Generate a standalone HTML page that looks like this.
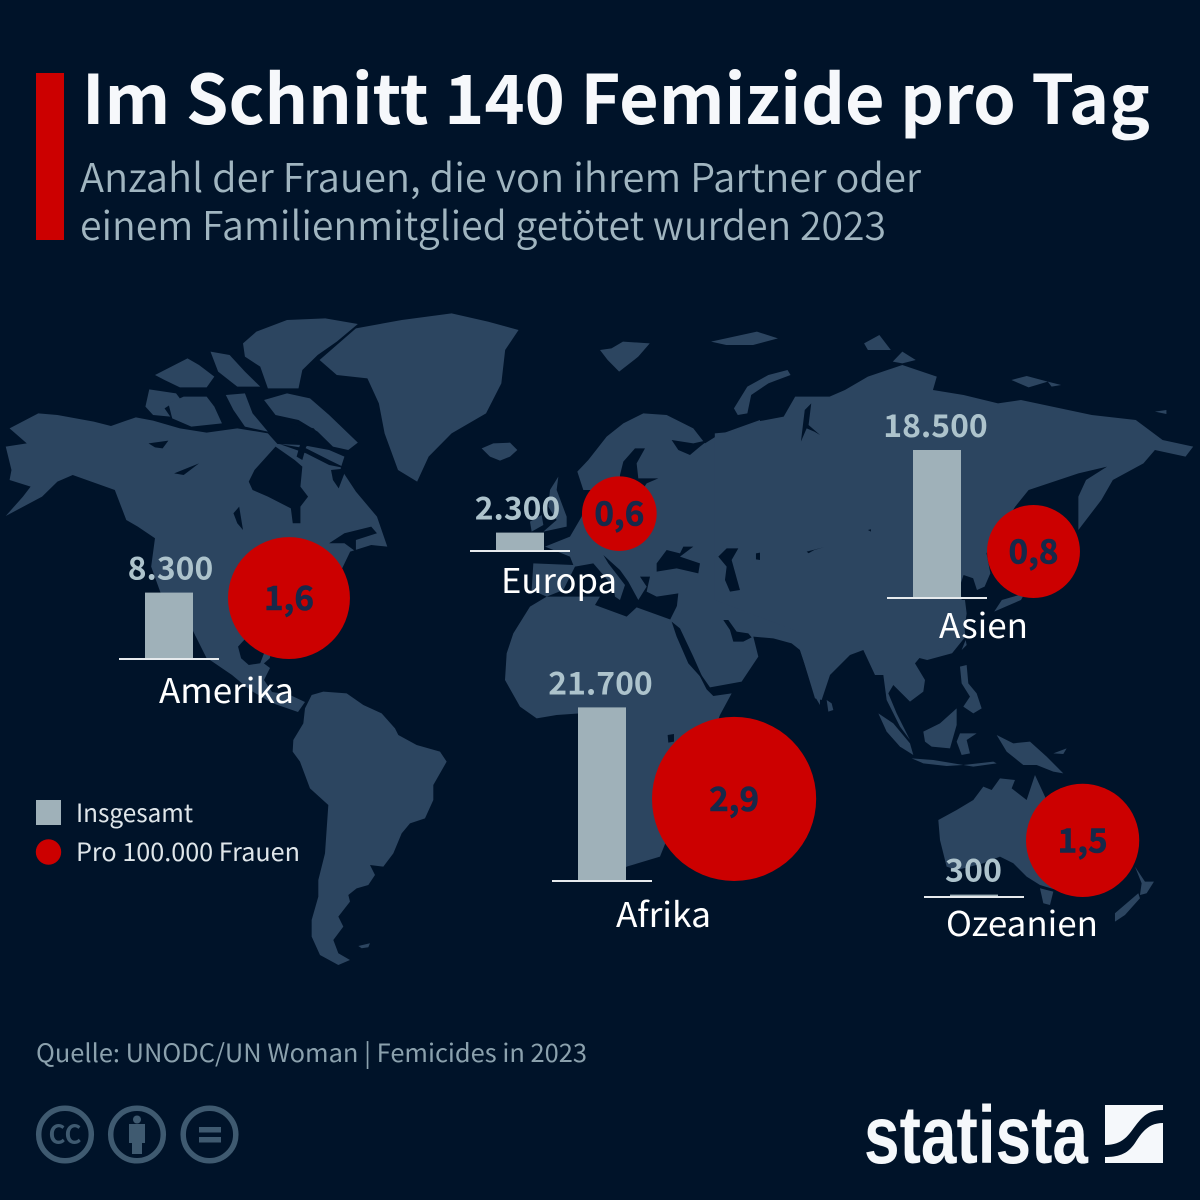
<!DOCTYPE html>
<html lang="de">
<head>
<meta charset="utf-8">
<title>Im Schnitt 140 Femizide pro Tag</title>
<style>
html,body{margin:0;padding:0;background:#001329;}
svg{display:block;}
text{font-family:"Noto Sans CJK JP","Liberation Sans",sans-serif;}
.land path{fill:#2c4560;}
.water path{fill:#001329;}
</style>
</head>
<body>
<svg id="chart" xmlns="http://www.w3.org/2000/svg" width="1200" height="1200" viewBox="0 0 1200 1200">
<rect width="1200" height="1200" fill="#001329"/>
<rect x="36" y="73" width="28" height="167" fill="#cc0000"/>
<text x="82" y="124" font-size="68" font-weight="700" fill="#f6f8fb" textLength="1068" lengthAdjust="spacingAndGlyphs">Im Schnitt 140 Femizide pro Tag</text>
<text x="80" y="192" font-size="39.5" font-weight="350" fill="#a0b5c0" textLength="841" lengthAdjust="spacingAndGlyphs">Anzahl der Frauen, die von ihrem Partner oder</text>
<text x="80" y="240" font-size="39.5" font-weight="350" fill="#a0b5c0" textLength="806" lengthAdjust="spacingAndGlyphs">einem Familienmitglied getötet wurden 2023</text>

<g>
  <g class="land" transform="translate(0,300) scale(.3827,.3333)">
    <path d="M25,385 L100,340 L150,345 L245,365 L290,378 L355,352 L400,362 L470,385 L540,398 L620,385 L700,400 L725,432 L790,435 L860,450 L900,470 L890,505 L930,575 L985,650 L1012,740 L970,735 L915,755 L890,815 L810,900 L720,1000 L705,1075 L680,1100 L600,1110 L540,1075 L490,960 L420,880 L395,800 L405,715 L360,680 L330,660 L300,570 L190,525 L150,545 L110,590 L15,648 L60,590 L80,560 L25,540 L30,510 L15,440 L70,430 Z"/>
    <path d="M635,130 L670,95 L750,60 L850,55 L935,72 L880,125 L830,165 L790,210 L780,265 L700,265 L680,200 L640,170 Z"/>
    <path d="M405,225 L490,175 L520,195 L560,230 L540,262 L470,262 L430,240 Z"/>
    <path d="M550,155 L600,165 L640,215 L680,260 L620,260 L570,215 Z"/>
    <path d="M380,320 L390,268 L460,280 L470,295 L430,325 L445,350 L400,345 Z"/>
    <path d="M440,310 L480,290 L540,290 L560,320 L580,370 L500,380 L450,355 Z"/>
    <path d="M590,285 L640,280 L660,340 L700,395 L640,380 L610,330 Z"/>
    <path d="M690,300 L750,280 L810,295 L860,345 L935,428 L910,450 L870,440 L830,395 L780,360 L720,345 Z"/>
    <path d="M835,180 L930,85 L1050,60 L1180,40 L1275,65 L1355,90 L1320,150 L1310,250 L1270,340 L1180,400 L1120,470 L1090,545 L1040,510 L1005,400 L990,310 L960,235 L880,225 Z"/>
  </g>
  <g class="land">
    <path d="M195,635 L210,660 L232,675 L250,690 L272,703 L298,712 L305,702 L290,695 L272,692 L264,680 L270,668 L262,662 L245,668 L238,650 L235,635 Z"/>
  </g>
  <g class="land" transform="translate(270,690) scale(.3333)">
    <path d="M105,55 L125,15 L160,5 L230,10 L280,45 L335,70 L375,115 L385,135 L440,165 L510,185 L530,215 L490,285 L490,330 L465,385 L420,400 L395,430 L370,490 L340,530 L300,525 L315,555 L295,585 L260,595 L235,615 L240,635 L205,680 L220,710 L190,750 L205,790 L240,810 L205,825 L150,795 L125,740 L125,690 L145,620 L145,570 L165,490 L175,345 L120,295 L90,215 L68,185 L70,150 L100,100 Z"/>
    <path d="M265,768 L300,760 L295,772 L275,775 Z"/>
  </g>
  <g class="land" transform="translate(460,400) scale(.3333)">
    <path d="M65,145 L100,130 L150,128 L172,150 L150,170 L120,182 L90,170 Z"/>
    <path d="M270,270 L295,230 L290,270 L320,350 L320,380 L250,395 L290,360 L265,320 Z"/>
    <path d="M210,365 L245,345 L250,375 L215,395 Z"/>
    <path d="M352,215 L385,180 L440,110 L490,70 L550,40 L620,45 L700,85 L735,130 L775,105 L830,85 L900,60 L900,620 L700,640 L650,625 L655,580 L590,590 L560,575 L570,530 L540,530 L560,560 L535,600 L505,545 L480,510 L430,465 L445,490 L495,555 L480,600 L465,590 L460,560 L400,490 L345,500 L310,570 L260,590 L215,570 L220,490 L340,495 L330,470 L255,440 L330,410 L365,350 L375,300 L420,290 L400,270 L370,270 Z"/>
  </g>
  <g class="land" transform="translate(480,600) scale(.3333)">
    <path d="M80,160 L100,100 L150,20 L200,-10 L360,-10 L345,15 L440,50 L470,22 L575,60 L640,190 L680,268 L700,288 L755,280 L720,345 L700,400 L660,480 L600,600 L560,720 L540,770 L440,800 L400,840 L330,840 L350,500 L300,340 L230,345 L170,355 L120,320 L75,240 Z"/>
    <path d="M570,60 L590,20 L600,0 L1020,0 L1020,315 L1005,290 L975,195 L960,150 L935,130 L880,115 L820,110 L835,170 L785,245 L690,262 L640,190 Z"/>
  </g>
  <g class="land" transform="translate(600,300) scale(.3827,.3333)">
    <path d="M300,900 L300,400 L350,395 L410,365 L480,350 L510,290 L600,290 L640,270 L700,230 L790,195 L880,230 L870,270 L950,285 L1040,310 L1100,300 L1285,345 L1400,360 L1470,420 L1550,440 L1530,470 L1450,450 L1420,490 L1340,540 L1310,600 L1250,690 L1250,590 L1270,540 L1325,500 L1250,520 L1120,570 L1085,620 L1040,700 L1010,760 L1020,820 L1005,860 L985,870 L975,835 L950,825 L940,860 L945,900 L955,1010 L920,1060 L855,1080 L700,1035 L530,1000 Z"/>
    <path d="M1030,935 L1050,900 L1110,880 L1100,900 L1060,920 Z"/>
    <path d="M350,325 L385,260 L440,225 L490,210 L498,225 L440,250 L395,285 L385,340 L360,345 Z"/>
    <path d="M0,150 L30,145 L60,125 L130,130 L100,170 L50,215 L20,180 Z"/>
    <path d="M290,125 L350,110 L410,95 L465,115 L400,135 L330,135 Z"/>
    <path d="M690,130 L730,105 L760,150 L700,150 Z"/>
    <path d="M765,185 L790,155 L825,180 L790,190 Z"/>
    <path d="M1075,240 L1115,228 L1170,245 L1120,262 Z"/>
    <path d="M1170,245 L1205,255 L1180,260 Z"/>
    <path d="M1450,335 L1480,330 L1480,342 Z"/>
  </g>
  <g class="land" transform="translate(800,600) scale(.3333)">
    <path d="M0,0 L495,0 L500,40 L490,110 L430,145 L370,160 L345,190 L375,240 L370,275 L330,305 L280,255 L265,280 L290,340 L330,420 L300,380 L260,300 L250,225 L225,225 L190,150 L150,165 L90,225 L65,300 L45,295 L10,180 L0,150 Z"/>
    <path d="M80,300 L95,310 L100,330 L85,335 Z"/>
    <path d="M235,340 L280,370 L330,430 L340,465 L300,440 L260,395 Z"/>
    <path d="M335,475 L400,480 L490,495 L440,498 L370,490 Z"/>
    <path d="M490,495 L580,485 L590,490 L520,500 Z"/>
    <path d="M370,395 L420,370 L470,325 L470,375 L450,445 L395,440 L375,425 Z"/>
    <path d="M480,400 L530,400 L500,420 L510,460 L485,465 L470,425 Z"/>
    <path d="M480,200 L500,195 L505,250 L530,280 L545,325 L520,340 L490,320 L510,290 L485,250 Z"/>
    <path d="M485,150 L497,120 L500,135 Z"/>
    <path d="M590,405 L640,430 L690,425 L740,470 L790,520 L760,515 L710,495 L670,495 L620,455 Z"/>
    <path d="M760,460 L800,445 L790,462 Z"/>
    <path d="M415,660 L470,630 L520,600 L550,560 L575,570 L600,535 L645,540 L635,565 L680,600 L705,525 L735,590 L760,650 L800,750 L770,870 L720,855 L680,830 L640,790 L600,770 L550,790 L470,810 L440,800 L420,720 Z"/>
    <path d="M720,865 L760,875 L750,915 L730,910 Z"/>
    <path d="M1005,800 L1035,845 L1062,845 L1040,880 L1020,885 L1025,850 Z"/>
    <path d="M1015,880 L1020,895 L975,945 L945,965 L945,940 Z"/>
  </g>
  <g class="water" transform="translate(0,300) scale(.3827,.3333)">
    <path d="M650,545 L665,510 L720,440 L770,480 L790,500 L785,560 L805,590 L785,620 L785,670 L765,670 L760,625 L700,590 L660,570 Z"/>
    <path d="M760,370 L820,385 L840,415 L800,440 L790,480 L775,470 L785,430 L770,410 Z"/>
    <path d="M865,510 L905,505 L885,565 L870,540 Z"/>
    <path d="M730,432 L800,445 L860,480 L905,505 L860,495 L800,460 Z"/>
    <path d="M388,430 L440,422 L425,445 L405,442 Z"/>
    <path d="M455,520 L520,490 L480,525 Z"/>
    <path d="M610,640 L625,620 L635,690 L620,670 Z"/>
    <path d="M860,730 L900,700 L970,680 L985,700 L930,720 L930,755 L900,730 Z"/>
    <path d="M622,1040 L650,1005 L700,1030 L690,1060 L680,1090 L650,1095 L630,1075 Z"/>
  </g>
  <g class="water" transform="translate(460,400) scale(.3333)">
    <path d="M635,120 L700,130 L745,120 L720,140 L690,165 L655,150 Z"/>
    <path d="M480,225 L490,185 L525,145 L555,145 L530,190 L535,235 L595,235 L560,250 L550,265 L480,250 Z"/>
    <path d="M590,490 L620,450 L660,460 L670,440 L700,440 L660,470 L720,490 L715,520 L650,505 L590,515 Z"/>
    <path d="M775,470 L800,445 L835,445 L815,480 L840,570 L810,575 L795,540 L800,500 Z"/>
    <path d="M888,460 L900,458 L900,480 L888,478 Z"/>
  </g>
  <g class="water" transform="translate(480,600) scale(.3333)">
    <path d="M575,65 L600,85 L640,170 L680,260 L670,240 L625,190 L590,110 Z"/>
    <path d="M730,60 L745,60 L770,95 L805,100 L815,112 L790,125 L760,125 L750,90 Z"/>
    <path d="M563,405 L582,402 L582,425 L565,428 Z"/>
  </g>
  <g class="water" transform="translate(600,300) scale(.3827,.3333)">
    <path d="M525,425 L535,330 L552,310 L545,375 L575,405 L560,395 L540,385 Z"/>
    <path d="M540,755 L585,742 L560,750 L545,760 Z"/>
    <path d="M700,690 L708,688 L708,695 Z"/>
  </g>
</g>

<g id="marks"></g>

<g>
  <rect x="36" y="800" width="25" height="25" fill="#9fb1b9"/>
  <text x="76" y="822" font-size="25" fill="#dfe6ea" textLength="117" lengthAdjust="spacingAndGlyphs">Insgesamt</text>
  <circle cx="48.5" cy="852" r="12.7" fill="#cc0000"/>
  <text x="76" y="861" font-size="25" fill="#dfe6ea" textLength="224" lengthAdjust="spacingAndGlyphs">Pro 100.000 Frauen</text>
</g>

<text x="36" y="1062" font-size="25" fill="#8ba1ad" textLength="551" lengthAdjust="spacingAndGlyphs">Quelle: UNODC/UN Woman | Femicides in 2023</text>

<g fill="#3f5a70">
  <g>
    <circle cx="65" cy="1134.5" r="26.3" fill="none" stroke="#3f5a70" stroke-width="5.5"/>
    <text x="48.5" y="1143.5" font-size="26" font-weight="700" textLength="33" lengthAdjust="spacingAndGlyphs">CC</text>
  </g>
  <g>
    <circle cx="137" cy="1134.5" r="26.3" fill="none" stroke="#3f5a70" stroke-width="5.5"/>
    <circle cx="137" cy="1119.5" r="4"/>
    <path d="M129,1124 H145 V1143 H142 V1154 H132 V1143 H129 Z"/>
  </g>
  <g>
    <circle cx="209.5" cy="1134.5" r="26.3" fill="none" stroke="#3f5a70" stroke-width="5.5"/>
    <rect x="199" y="1127" width="22" height="5.5"/>
    <rect x="199" y="1137" width="22" height="5.5"/>
  </g>
</g>

<g>
  <text x="864" y="1163" font-size="82" font-weight="700" fill="#f5f8fb" textLength="224" lengthAdjust="spacingAndGlyphs" style="font-family:'Liberation Sans',sans-serif">statista</text>
  <g transform="translate(1105,1105)" fill="#f5f8fb">
    <path d="M0,0 H58 V5 C40,5 35,15 25,28 C18,37 10,40 0,40 Z"/>
    <path d="M58,18 C45,18 38,25 30,38 C22,50 12,52 0,52 V58 H58 Z"/>
  </g>
</g>
</svg>

<script>
// Chart data
const regions = ['Amerika', 'Europa', 'Asien', 'Afrika', 'Ozeanien'];
const totals = [8300, 2300, 18500, 21700, 300];
const totalLabels = ['8.300', '2.300', '18.500', '21.700', '300'];
// Bubble sizes (areas), and the printed rounded rates
const rateValues = [1.6, 0.6, 0.93, 2.9, 1.38];
const rateLabels = ['1,6', '0,6', '0,8', '2,9', '1,5'];

// Layout only
const layout = {
  Amerika:  {axisX: 119, base: 659, bubbleLeft: 228,  labelDx: 3, nameX: 159, nameY: 703, nameW: 135},
  Europa:   {axisX: 470, base: 551, bubbleLeft: 582,  labelDx: -1, nameX: 501, nameY: 593, nameW: 116},
  Asien:    {axisX: 887, base: 598, bubbleLeft: 987,  labelDx: 0, nameX: 939, nameY: 638, nameW: 89},
  Afrika:   {axisX: 552, base: 881, bubbleLeft: 652,  labelDx: 0, nameX: 616, nameY: 927, nameW: 95},
  Ozeanien: {axisX: 924, base: 897, bubbleLeft: 1026, labelDx: 1, nameX: 946, nameY: 936, nameW: 152}
};

function barHeight(v) { return v * 0.008; }
function bubbleRadius(v) { return 48.2 * Math.sqrt(v); }
function labelWidth(s) {
  let w = 0;
  for (const c of s) { w += (c === '.' || c === ',') ? 9.5 : 19; }
  return w;
}

const NS = 'http://www.w3.org/2000/svg';
const marks = document.getElementById('marks');

function svgEl(tag, attrs) {
  const el = document.createElementNS(NS, tag);
  for (const k in attrs) { el.setAttribute(k, attrs[k]); }
  return el;
}

regions.forEach(function (name, i) {
  const p = layout[name];
  const slug = name.toLowerCase();
  const h = barHeight(totals[i]);
  const r = bubbleRadius(rateValues[i]);
  const barX = p.axisX + 26;
  const top = p.base - h;
  const cx = p.bubbleLeft + r;
  const cy = p.base - r;

  const bubble = svgEl('circle', {cx: cx, cy: cy, r: r, fill: '#cc0000'});
  
  
  marks.appendChild(bubble);

  const bar = svgEl('rect', {x: barX, y: top, width: 48, height: h, fill: '#9fb1b9'});
  
  
  marks.appendChild(bar);

  const axis = svgEl('rect', {x: p.axisX, y: p.base - 1, width: 100, height: 2, fill: '#e6eaed'});
  
  
  marks.appendChild(axis);

  const tw = labelWidth(totalLabels[i]);
  const total = svgEl('text', {x: barX + 22.5 + p.labelDx - tw / 2, y: top - 13, 'font-size': 31, 'font-weight': 700, fill: '#adc3cc', textLength: tw, lengthAdjust: 'spacingAndGlyphs'});
  total.textContent = totalLabels[i];
  
  
  marks.appendChild(total);

  const rw = 50;
  const rate = svgEl('text', {x: cx - rw / 2, y: cy + 12, 'font-size': 33, 'font-weight': 700, fill: '#16294a', stroke: '#16294a', 'stroke-width': 0.6, textLength: rw, lengthAdjust: 'spacingAndGlyphs'});
  rate.textContent = rateLabels[i];
  
  
  marks.appendChild(rate);

  const label = svgEl('text', {x: p.nameX, y: p.nameY, 'font-size': 34, fill: '#ffffff', textLength: p.nameW, lengthAdjust: 'spacingAndGlyphs'});
  label.textContent = name;
  
  
  marks.appendChild(label);
});
</script>
</body>
</html>
